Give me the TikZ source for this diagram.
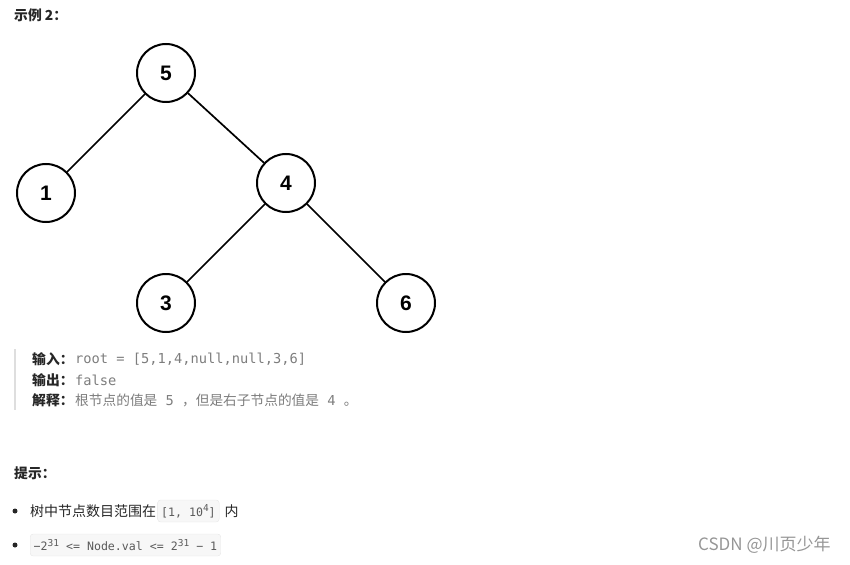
\documentclass[tikz,border=0pt]{standalone}
\usepackage{fontspec}
\setmainfont{Noto Sans CJK SC}
\setmonofont{DejaVu Sans Mono}
\newfontfamily\cjk{Noto Sans CJK SC}
\newfontfamily\numfont{Liberation Sans}
\usetikzlibrary{positioning}
\definecolor{textdark}{RGB}{38,38,38}
\definecolor{codegray}{RGB}{125,125,125}
\definecolor{boxtext}{RGB}{90,90,90}
\definecolor{quotebar}{RGB}{222,222,222}
\definecolor{codebg}{RGB}{247,247,247}
\definecolor{codeline}{RGB}{230,230,230}
\definecolor{markgray}{RGB}{150,150,150}
\newcommand\supnum[1]{\raisebox{0.42em}{\fontsize{9.5}{9.5}\selectfont #1}}

\begin{document}
\begin{tikzpicture}[x=1pt, y=-1pt,
  treenode/.style={circle, draw, line width=2pt, minimum size=58pt, inner sep=0pt,
    font=\numfont\bfseries\fontsize{21}{21}\selectfont},
  edge/.style={line width=1.7pt},
  txt/.style={anchor=west, inner sep=0pt, text=textdark, font=\fontsize{14}{14}\selectfont},
  label/.style={txt, font=\bfseries\fontsize{13.8}{14}\selectfont},
  pre/.style={anchor=west, inner sep=0pt, text=codegray, font=\ttfamily\fontsize{13.7}{14}\selectfont},
  codebox/.style={fill=codebg, draw=codeline, rounded corners=3pt, inner xsep=3.5pt, inner ysep=0pt,
    minimum height=22pt, text=boxtext, font=\ttfamily\fontsize{11.6}{12}\selectfont}]

  \useasboundingbox (0,0) rectangle (850,564);

  % Heading
  \node[label] (title) at (14,15) {示例 2：};

  % Tree
  \node[treenode] (n5) at (166,73) {5};
  \node[treenode] (n1) at (46,193) {1};
  \node[treenode] (n4) at (286,183) {4};
  \node[treenode] (n3) at (166,303) {3};
  \node[treenode] (n6) at (406,303) {6};
  \draw[edge] (n5) -- (n1);
  \draw[edge] (n5) -- (n4);
  \draw[edge] (n4) -- (n3);
  \draw[edge] (n4) -- (n6);

  % Example block
  \fill[quotebar] (14,349) rectangle (16,410);
  \node[label] (inlabel) at (32,359) {输入：};
  \node[pre] (invalue) at (75,359) {root = [5,1,4,null,null,3,6]};
  \node[label] (outlabel) at (32,380) {输出：};
  \node[pre] (outvalue) at (75,380) {false};
  \node[label] (whylabel) at (32,400) {解释：};
  \node[pre] (whyvalue) at (75,400) {{\cjk 根节点的值是}\texttt{ 5 }{\cjk ，但是右子节点的值是}\texttt{ 4 }{\cjk 。}};

  % Hints
  \node[label] (hint) at (14,473) {提示：};
  \fill[textdark] (15,511) circle (2.5pt);
  \node[txt] (range) at (30,511) {树中节点数目范围在};
  \node[codebox, right=1pt of range] (rangebox) {[1, 10\supnum{4}]};
  \node[txt, right=5pt of rangebox] (inside) {内};
  \fill[textdark] (15,545) circle (2.5pt);
  \node[codebox, anchor=west] (valbox) at (30,545) {−2\supnum{31} <= Node.val <= 2\supnum{31} − 1};

  % Watermark
  \node[anchor=west, inner sep=0pt, text=markgray, font=\fontsize{17}{17}\selectfont] (mark) at (698,545) {CSDN @川页少年};
\end{tikzpicture}
\end{document}
